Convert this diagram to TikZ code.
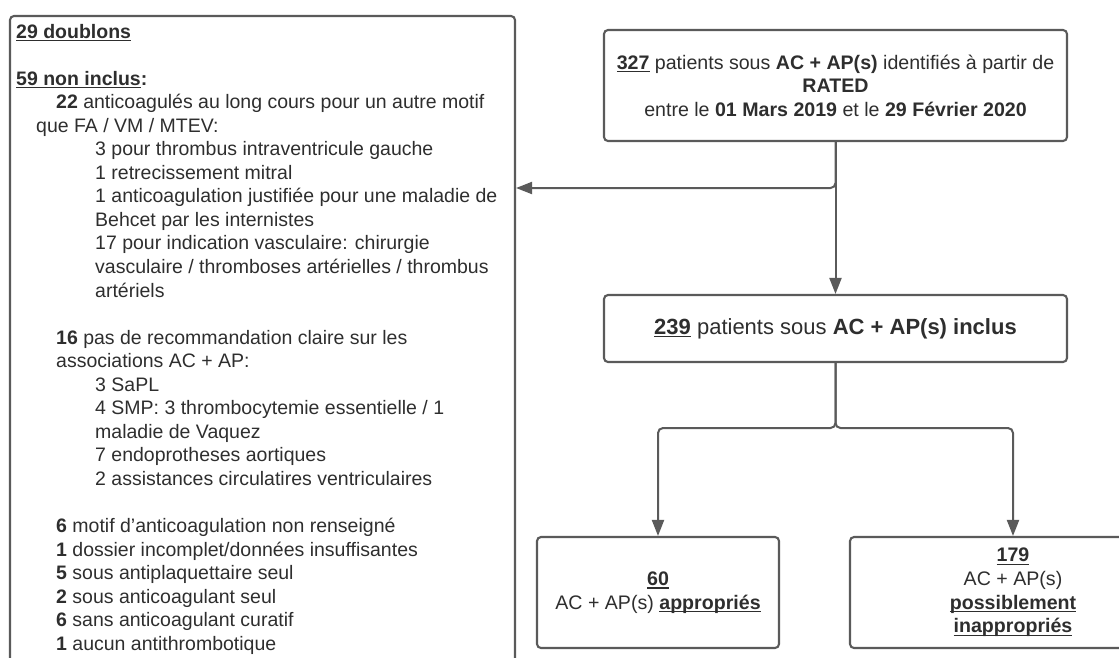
\documentclass[tikz,border=0pt]{standalone}
\usepackage{fontspec}
\setmainfont{Liberation Sans}
\usetikzlibrary{arrows.meta}
\definecolor{edge}{HTML}{5A5A5A}
\definecolor{ink}{HTML}{2E2E2E}
\newcommand{\ulx}[1]{\setbox0\hbox{#1}\rlap{\rule[-3.2pt]{\wd0}{1.4pt}}\box0\relax}
\newcommand{\lline}[4]{\node[ltext] (#1) at (#2,#3) {#4};}
\begin{document}
\begin{tikzpicture}[x=1pt,y=-1pt,
  box/.style={draw=edge, line width=2.1pt, rounded corners=4pt, align=center, text=ink, inner sep=0pt, font=\fontsize{19.6}{23.6}\selectfont},
  ltext/.style={anchor=base west, inner sep=0pt, text=ink, font=\fontsize{19.5}{23.55}\selectfont},
  conn/.style={draw=edge, line width=2pt, rounded corners=5pt, -{Triangle[length=16pt,width=12pt]}}]
\useasboundingbox (0,0) rectangle (1119,657);
\clip (0,0) rectangle (1119,657);

% boxes
\node[box, minimum width=505pt, minimum height=690pt] (excl) at (262.5,361) {};
\node[box, minimum width=463pt, minimum height=111pt] (top) at (835.5,85.5)
  {\ulx{\textbf{327}} patients sous \textbf{AC + AP(s)} identifiés à partir de\\ \textbf{RATED}\\ entre le \textbf{01 Mars 2019} et le \textbf{29 Février 2020}};
\node[box, minimum width=463pt, minimum height=67pt, font=\fontsize{22}{26}\selectfont] (incl) at (835.5,328.5)
  {\ulx{\textbf{239}} patients sous \textbf{AC + AP(s) inclus}};
\node[box, minimum width=242pt, minimum height=111pt] (appr) at (658,592.5)
  {\ulx{\textbf{60}}\\ AC + AP(s) \ulx{\textbf{appropriés}}};
\node[box, minimum width=326pt, minimum height=111pt] (inappr) at (1013,592.5)
  {\ulx{\textbf{179}}\\ AC + AP(s)\\ \ulx{\textbf{possiblement}}\\ \ulx{\textbf{inappropriés}}};

% left box text
\lline{t0}{16}{38}{\textbf{\ulx{29 doublons}}}
\lline{t2}{16}{85.1}{\textbf{\ulx{59 non inclus}:}}
\lline{t3}{56}{108.65}{\textbf{22} anticoagulés au long cours pour un autre motif}
\lline{t4}{36}{132.2}{que FA / VM / MTEV:}
\lline{t5}{95}{155.75}{3 pour thrombus intraventricule gauche}
\lline{t6}{95}{179.3}{1 retrecissement mitral}
\lline{t7}{95}{202.85}{1 anticoagulation justifiée pour une maladie de}
\lline{t8}{95}{226.4}{Behcet par les internistes}
\lline{t9}{95}{249.95}{17 pour indication vasculaire: chirurgie}
\lline{t10}{95}{273.5}{vasculaire / thromboses artérielles / thrombus}
\lline{t11}{95}{297.05}{artériels}
\lline{t13}{56}{344.15}{\textbf{16} pas de recommandation claire sur les}
\lline{t14}{56}{367.7}{associations AC + AP:}
\lline{t15}{95}{391.25}{3 SaPL}
\lline{t16}{95}{414.8}{4 SMP: 3 thrombocytemie essentielle / 1}
\lline{t17}{95}{438.35}{maladie de Vaquez}
\lline{t18}{95}{461.9}{7 endoprotheses aortiques}
\lline{t19}{95}{485.45}{2 assistances circulatires ventriculaires}
\lline{t21}{56}{532.55}{\textbf{6} motif d'anticoagulation non renseigné}
\lline{t22}{56}{556.1}{\textbf{1} dossier incomplet/données insuffisantes}
\lline{t23}{56}{579.65}{\textbf{5} sous antiplaquettaire seul}
\lline{t24}{56}{603.2}{\textbf{2} sous anticoagulant seul}
\lline{t25}{56}{626.75}{\textbf{6} sans anticoagulant curatif}
\lline{t26}{56}{650.3}{\textbf{1} aucun antithrombotique}

% connectors
\coordinate (split1) at (835.5,188);
\coordinate (split2) at (835.5,428);
\draw[conn] (top.south) -- (incl.north);
\draw[conn] (top.south) |- (excl.east |- split1);
\draw[conn] (incl.south) -- (split2) -| (appr.north);
\draw[conn] (incl.south) -- (split2) -| (inappr.north);
\end{tikzpicture}
\end{document}
